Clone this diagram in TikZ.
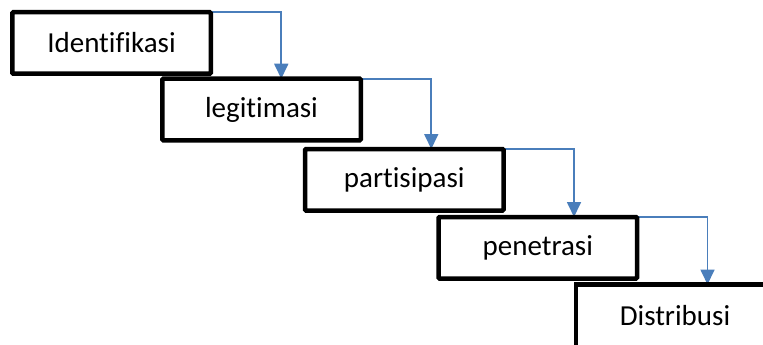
\documentclass[tikz,border=0pt]{standalone}
\usepackage{fontspec}
\setmainfont{Carlito}[Ligatures={NoCommon,NoRare,NoDiscretionary}]
\usetikzlibrary{arrows.meta,backgrounds}
\definecolor{flowblue}{HTML}{4A7EBB}
\begin{document}
\begin{tikzpicture}[x=1pt,y=-1pt,
  stepbox/.style={draw=black,line width=4.5pt,fill=white,rounded corners=1pt,
    minimum width=198.5pt,minimum height=61.5pt,inner sep=0pt,outer sep=0pt,
    font=\fontsize{29pt}{34pt}\selectfont},
  edge/.style={draw=black,line width=4.5pt},
  flow/.style={draw=flowblue,line width=1.75pt,
    -{Triangle[width=14pt,length=15pt]}}]
  \useasboundingbox (0,0) rectangle (763,345);
  \clip (0,0) rectangle (763,345);
  \coordinate (frame) at (763,345);

  % stair-step boxes
  \node[stepbox] (B1) at (111.5,43)       {Identifikasi};
  \node[stepbox] (B2) at (261.5,109.5)    {legitimasi};
  \node[stepbox] (B3) at (404.25,179.75)  {partisipasi};
  \node[stepbox] (B4) at (537.75,247.75)  {penetrasi};
  % last step runs off the page: only its top and left edges show
  \node[stepbox,draw=none,fill=none] (B5) at (675,315.25) {Distribusi};
  \draw[edge] (B5.north west |- frame) -- (B5.north west) -- (B5.north west -| frame);

  % connectors from each box's top corner down onto the next box
  \begin{scope}[on background layer]
    \foreach \a/\b in {B1/B2,B2/B3,B3/B4,B4/B5}{
      \draw[flow] (\a.north east) -| ([xshift=70.5pt]\a.east |- \b.north);
    }
  \end{scope}
\end{tikzpicture}
\end{document}
